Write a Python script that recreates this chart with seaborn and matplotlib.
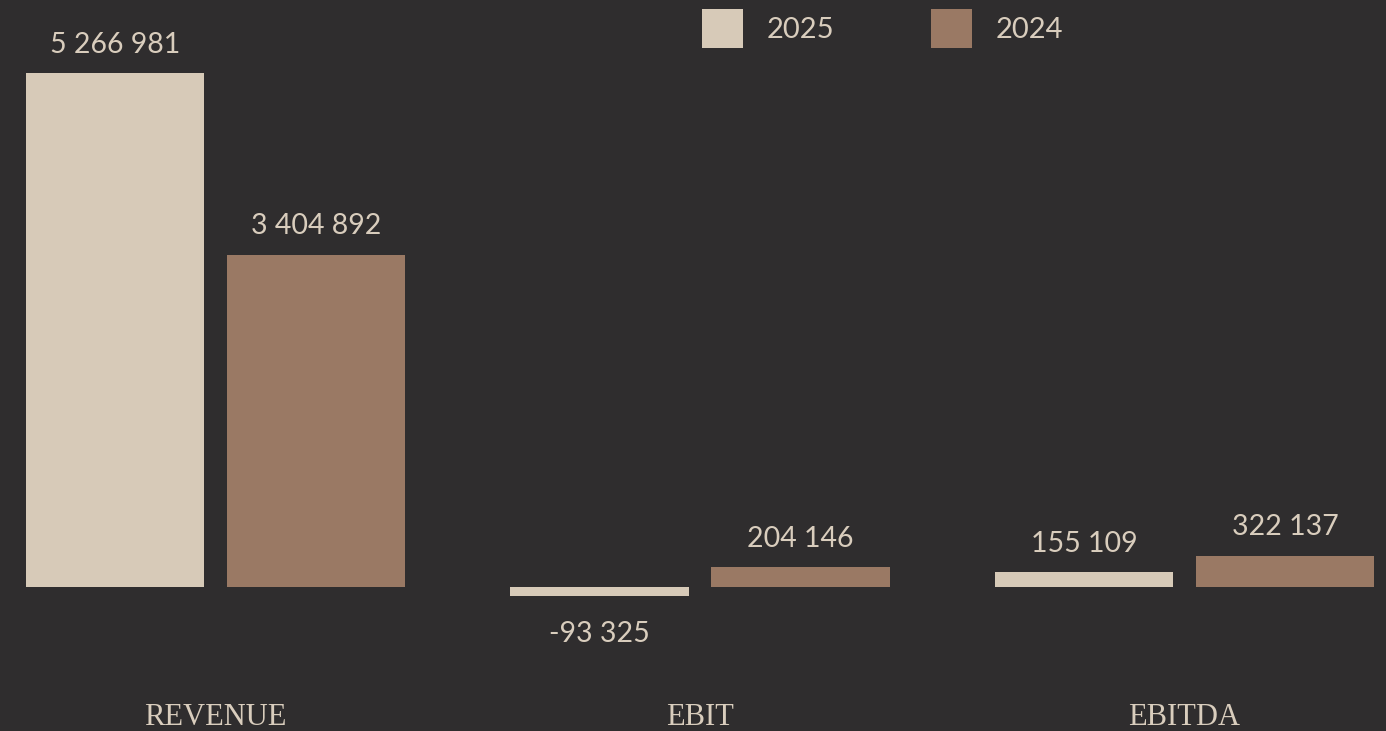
import pandas as pd
import seaborn as sns
from matplotlib import pyplot as plt

categories = ["REVENUE", "EBIT", "EBITDA"]
values_2025 = [5266981, -93325, 155109]
values_2024 = [3404892, 204146, 322137]
years = ["2025", "2024"]

BG = "#2f2d2e"
LIGHT = "#d7cab8"
BROWN = "#9a7964"
TEXT = "#d9cdbd"

data = pd.DataFrame({
    "category": categories * 2,
    "year": [years[0]] * 3 + [years[1]] * 3,
    "value": values_2025 + values_2024,
})

sns.set_theme(style="white")
plt.rcParams["font.family"] = ["Lato", "DejaVu Sans"]

fig = plt.figure(figsize=(13.86, 7.31), dpi=100, facecolor=BG)
ax = fig.add_axes([0, 0, 1, 1])
ax.set_facecolor(BG)

sns.barplot(
    data=data,
    x="category",
    y="value",
    hue="year",
    hue_order=years,
    palette=[LIGHT, BROWN],
    width=0.83,
    gap=0.114,
    saturation=1,
    linewidth=0,
    ax=ax,
)

# value labels (negative ones sit a bit further from the bar)
for container, vals in zip(ax.containers, [values_2025, values_2024]):
    texts = ax.bar_label(
        container,
        labels=[f"{v:,}".replace(",", " ") for v in vals],
        padding=11,
        color=TEXT,
        fontsize=20.5,
    )
    for t, v in zip(texts, vals):
        if v < 0:
            t.xyann = (0, -18)

# category names under the groups
for i, name in enumerate(categories):
    ax.text(
        i, 0.008, name,
        transform=ax.get_xaxis_transform(),
        ha="center", va="baseline",
        fontsize=22, color=TEXT,
        family=["Liberation Serif", "DejaVu Serif"],
    )

ymax = max(values_2025 + values_2024)
ax.set_ylim(-ymax * 0.2802, ymax * 1.1420)
ax.set_xlim(-0.4448, 2.4159)
ax.set_xlabel("")
ax.set_ylabel("")
ax.set_xticks([])
ax.set_yticks([])
sns.despine(ax=ax, left=True, bottom=True)

sns.move_legend(
    ax,
    "upper left",
    bbox_to_anchor=(702 / 1386, 1 - 9 / 731),
    bbox_transform=fig.transFigure,
    ncol=2,
    frameon=False,
    title=None,
    fontsize=21,
    handlelength=1.4,
    handleheight=1.69,
    handletextpad=0.8,
    columnspacing=3.35,
    borderpad=0,
    borderaxespad=0,
    labelcolor=TEXT,
)
for h in ax.get_legend().legend_handles:
    h.set_linewidth(0)

fig.savefig("out.png", dpi=100, facecolor=BG)
